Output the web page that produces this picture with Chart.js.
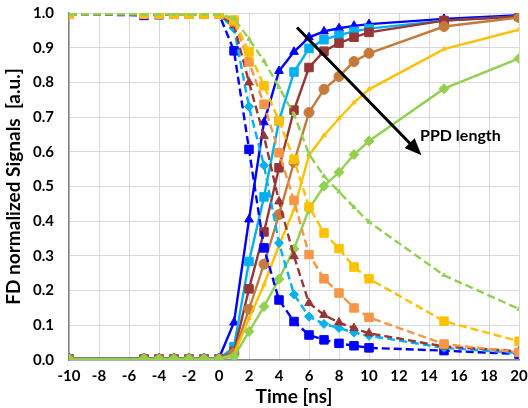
<!DOCTYPE html>
<html>
<head>
<meta charset="utf-8">
<script src="https://cdn.jsdelivr.net/npm/chart.js@4/dist/chart.umd.min.js"></script>
<style>
  html, body { margin: 0; padding: 0; background: #fff; }
  #wrap { width: 528px; height: 408px; }
</style>
</head>
<body>
<div id="wrap"><canvas id="fdChart" width="528" height="408"></canvas></div>
<script>
// time points (ns)
const times = [-10, -5, -4, -3, -2, -1, 0, 1, 2, 3, 4, 5, 6, 7, 8, 9, 10, 15, 20];

// rising (solid) signals
const blueRise   = [0.005, 0.005, 0.005, 0.005, 0.005, 0.005, 0.005, 0.108, 0.405, 0.685, 0.833, 0.888, 0.930, 0.947, 0.956, 0.963, 0.968, 0.983, 0.994];
const cyanRise   = [0.003, 0.003, 0.003, 0.003, 0.003, 0.003, 0.003, 0.038, 0.284, 0.470, 0.689, 0.830, 0.898, 0.923, 0.936, 0.947, 0.955, 0.978, 0.990];
const brownRise  = [0.003, 0.003, 0.003, 0.003, 0.003, 0.003, 0.003, 0.025, 0.205, 0.369, 0.554, 0.720, 0.843, 0.890, 0.913, 0.930, 0.944, 0.978, 0.990];
const copperRise = [0.003, 0.003, 0.003, 0.003, 0.003, 0.003, 0.003, 0.020, 0.146, 0.276, 0.419, 0.570, 0.713, 0.780, 0.817, 0.860, 0.884, 0.961, 0.987];
const goldRise   = [0.003, 0.003, 0.003, 0.003, 0.003, 0.003, 0.003, 0.015, 0.120, 0.217, 0.330, 0.434, 0.590, 0.647, 0.696, 0.742, 0.780, 0.896, 0.952];
const greenRise  = [0.003, 0.003, 0.003, 0.003, 0.003, 0.003, 0.003, 0.010, 0.082, 0.154, 0.233, 0.320, 0.435, 0.501, 0.541, 0.592, 0.631, 0.782, 0.869];

// falling (dashed) signals
const blueFall   = [0.997, 0.993, 0.995, 0.997, 0.997, 0.997, 0.997, 0.891, 0.607, 0.323, 0.173, 0.111, 0.072, 0.058, 0.048, 0.041, 0.035, 0.027, 0.017];
const cyanFall   = [0.997, 0.997, 0.997, 0.997, 0.997, 0.997, 0.997, 0.955, 0.730, 0.561, 0.337, 0.189, 0.125, 0.104, 0.092, 0.079, 0.070, 0.035, 0.020];
const brownFall  = [0.997, 0.997, 0.997, 0.997, 0.997, 0.997, 0.997, 0.965, 0.800, 0.645, 0.457, 0.299, 0.164, 0.130, 0.108, 0.092, 0.077, 0.039, 0.025];
const orangeFall = [0.997, 0.997, 0.997, 0.997, 0.997, 0.997, 0.997, 0.975, 0.859, 0.737, 0.597, 0.460, 0.304, 0.234, 0.193, 0.150, 0.123, 0.046, 0.022];
const goldFall   = [0.997, 0.997, 0.997, 0.997, 0.997, 0.997, 0.997, 0.980, 0.888, 0.790, 0.689, 0.578, 0.441, 0.366, 0.321, 0.268, 0.234, 0.112, 0.054];
const greenFall  = [0.997, 0.997, 0.997, 0.997, 0.997, 0.997, 0.997, 0.985, 0.925, 0.862, 0.786, 0.708, 0.593, 0.530, 0.485, 0.440, 0.398, 0.244, 0.147];

// arrow annotation, in data units
const arrowFrom = { x: 5.2, y: 0.958 };
const arrowTo   = { x: 13.5, y: 0.59 };
const arrowText = 'PPD length';
const arrowTextAt = { x: 13.4, y: 0.645 };

const FONT = 'Lato, "Liberation Sans", sans-serif';

function pts(ys) {
  return times.map((t, i) => ({ x: t, y: ys[i] }));
}

function series(label, ys, color, style, radius, dashed) {
  return {
    label,
    data: pts(ys),
    borderColor: color,
    backgroundColor: color,
    borderWidth: 2.4,
    borderDash: dashed ? [8, 4] : [],
    pointStyle: style,
    pointRadius: radius,
    pointBorderWidth: 1,
    tension: 0,
    fill: false
  };
}

const datasets = [
  series('green fall', greenFall, '#92D050', 'triangle', 2.5, true),
  series('gold fall', goldFall, '#FFC000', 'rect', 6, true),
  series('orange fall', orangeFall, '#F79646', 'rect', 6, true),
  series('brown fall', brownFall, '#953735', 'triangle', 5, true),
  series('cyan fall', cyanFall, '#00B0F0', 'rectRot', 4.5, true),
  series('blue fall', blueFall, '#0000FF', 'rect', 6, true),
  series('green rise', greenRise, '#92D050', 'rectRot', 5, false),
  series('gold rise', goldRise, '#FFC000', 'triangle', 2.5, false),
  series('copper rise', copperRise, '#C47A3C', 'circle', 5, false),
  series('brown rise', brownRise, '#953735', 'rect', 6, false),
  series('cyan rise', cyanRise, '#00B0F0', 'rect', 6, false),
  series('blue rise', blueRise, '#0000FF', 'triangle', 5, false)
];

const arrowPlugin = {
  id: 'ppdArrow',
  afterDatasetsDraw(chart) {
    const { ctx, scales: { x, y } } = chart;
    const x0 = x.getPixelForValue(arrowFrom.x), y0 = y.getPixelForValue(arrowFrom.y);
    const x1 = x.getPixelForValue(arrowTo.x), y1 = y.getPixelForValue(arrowTo.y);
    const ang = Math.atan2(y1 - y0, x1 - x0);
    const headLen = 17, headW = 7;
    ctx.save();
    ctx.strokeStyle = '#000';
    ctx.fillStyle = '#000';
    ctx.lineWidth = 3;
    ctx.beginPath();
    ctx.moveTo(x0, y0);
    ctx.lineTo(x1 - Math.cos(ang) * headLen * 0.8, y1 - Math.sin(ang) * headLen * 0.8);
    ctx.stroke();
    ctx.beginPath();
    ctx.moveTo(x1, y1);
    ctx.lineTo(x1 - Math.cos(ang) * headLen + Math.sin(ang) * headW, y1 - Math.sin(ang) * headLen - Math.cos(ang) * headW);
    ctx.lineTo(x1 - Math.cos(ang) * headLen - Math.sin(ang) * headW, y1 - Math.sin(ang) * headLen + Math.cos(ang) * headW);
    ctx.closePath();
    ctx.fill();
    ctx.font = 'bold 16px ' + FONT;
    ctx.textAlign = 'left';
    ctx.textBaseline = 'middle';
    ctx.fillText(arrowText, x.getPixelForValue(arrowTextAt.x), y.getPixelForValue(arrowTextAt.y));
    ctx.restore();
  }
};

const ctx = document.getElementById('fdChart').getContext('2d');
new Chart(ctx, {
  type: 'line',
  data: { datasets },
  options: {
    responsive: false,
    animation: false,
    layout: { autoPadding: false, padding: { top: 13, right: 9, left: 0, bottom: 0 } },
    plugins: {
      legend: { display: false },
      tooltip: { enabled: false }
    },
    scales: {
      x: {
        type: 'linear',
        min: -10,
        max: 20,
        // fixed axis box, no label overflow padding
        afterFit: s => { s.height = 48; s.paddingLeft = 0; s.paddingRight = 0; },
        ticks: {
          stepSize: 2,
          padding: 7,
          color: '#000',
          font: { family: FONT, size: 15, weight: 'bold' }
        },
        grid: { color: '#d9d9d9', drawTicks: false },
        border: { color: '#868686', width: 1.5 },
        title: {
          display: true,
          text: 'Time [ns]',
          color: '#000',
          padding: { top: 2, bottom: 0 },
          font: { family: FONT, size: 19, weight: 'bold' }
        }
      },
      y: {
        min: 0,
        max: 1,
        afterFit: s => { s.width = 69; s.paddingTop = 0; s.paddingBottom = 0; },
        ticks: {
          stepSize: 0.1,
          padding: 15,
          color: '#000',
          callback: v => v.toFixed(1),
          font: { family: FONT, size: 15, weight: 'bold' }
        },
        grid: { color: '#d9d9d9', drawTicks: false },
        border: { color: '#868686', width: 1.5 },
        title: {
          display: true,
          text: 'FD normalized Signals  [a.u.]',
          color: '#000',
          padding: { top: 2, bottom: 2 },
          font: { family: FONT, size: 19, weight: 'bold' }
        }
      }
    }
  },
  plugins: [arrowPlugin]
});
</script>
</body>
</html>
